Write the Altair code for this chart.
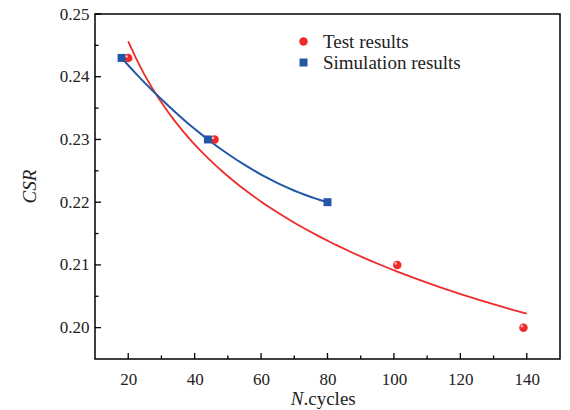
import altair as alt
import pandas as pd

# ---- data ----
test_n = [20, 46, 101, 139]
test_csr = [0.243, 0.230, 0.210, 0.200]
sim_n = [18, 44, 80]
sim_csr = [0.243, 0.230, 0.220]

series_names = ["Test results", "Simulation results"]
series_colors = ["#ee2b2b", "#2456a6"]
series_shapes = ["circle", "square"]

x_major = [20, 40, 60, 80, 100, 120, 140]
x_minor = [30, 50, 70, 90, 110, 130]
y_major = [0.20, 0.21, 0.22, 0.23, 0.24, 0.25]
y_minor = [0.205, 0.215, 0.225, 0.235, 0.245]

x_title_parts = ["N", ".cycles"]
y_title = "CSR"

FONT = "Liberation Serif"
W, H = 465, 345

pts = pd.DataFrame(
    {
        "N": test_n + sim_n,
        "CSR": test_csr + sim_csr,
        "series": [series_names[0]] * len(test_n) + [series_names[1]] * len(sim_n),
    }
)
test_df = pd.DataFrame({"N": test_n, "CSR": test_csr})
sim_df = pd.DataFrame({"N": sim_n, "CSR": sim_csr})

xs = alt.Scale(domain=[10, 150], nice=False, zero=False)
ys = alt.Scale(domain=[0.195, 0.25], nice=False, zero=False)

x_axis = alt.Axis(
    values=x_major, ticks=False, tickSize=0, domain=False, grid=False,
    labelFont=FONT, labelFontSize=17, labelColor="#222", labelPadding=12,
    title=None,
)
y_axis = alt.Axis(
    values=y_major, ticks=False, tickSize=0, domain=False, grid=False,
    labelFont=FONT, labelFontSize=17, labelColor="#222", labelPadding=6,
    format=".2f", title=None,
)

X = alt.X("N:Q", scale=xs, axis=x_axis)
Y = alt.Y("CSR:Q", scale=ys, axis=y_axis)

red_fit = (
    alt.Chart(test_df)
    .transform_regression("N", "CSR", method="pow", extent=[20, 140])
    .mark_line(color=series_colors[0], strokeWidth=1.8)
    .encode(x=X, y=Y)
)
blue_fit = (
    alt.Chart(sim_df)
    .transform_regression("N", "CSR", method="poly", order=2, extent=[18, 80])
    .mark_line(color=series_colors[1], strokeWidth=2)
    .encode(x=X, y=Y)
)

points = (
    alt.Chart(pts)
    .mark_point(filled=True, opacity=1)
    .encode(
        x=X,
        y=Y,
        color=alt.Color(
            "series:N",
            scale=alt.Scale(domain=series_names, range=series_colors),
            legend=alt.Legend(
                orient="none", legendX=199, legendY=18, title=None,
                labelFont=FONT, labelFontSize=19, labelColor="#222",
                symbolSize=64, labelOffset=10, rowPadding=1, padding=0,
                symbolStrokeWidth=0,
            ),
        ),
        shape=alt.Shape(
            "series:N",
            scale=alt.Scale(domain=series_names, range=series_shapes),
            legend=None,
        ),
        size=alt.Size(
            "series:N",
            scale=alt.Scale(domain=series_names, range=[72, 64]),
            legend=None,
        ),
    )
)

# sphere highlight on the test points
highlight = (
    alt.Chart(test_df)
    .mark_point(filled=True, color="#ffd0d0", opacity=0.9, size=6, xOffset=-1.5, yOffset=-1.5)
    .encode(x=X, y=Y)
)

xtick_major = alt.Chart(pd.DataFrame({"N": x_major})).mark_rule(color="black", strokeWidth=1.3).encode(
    x=X, y=alt.value(H), y2=alt.value(H - 6)
)
xtick_minor = alt.Chart(pd.DataFrame({"N": x_minor})).mark_rule(color="black", strokeWidth=1.3).encode(
    x=X, y=alt.value(H), y2=alt.value(H - 3.5)
)
ytick_major = alt.Chart(pd.DataFrame({"CSR": y_major})).mark_rule(color="black", strokeWidth=1.3).encode(
    y=Y, x=alt.value(0), x2=alt.value(6)
)
ytick_minor = alt.Chart(pd.DataFrame({"CSR": y_minor})).mark_rule(color="black", strokeWidth=1.3).encode(
    y=Y, x=alt.value(0), x2=alt.value(3.5)
)

xt_df = pd.DataFrame({"t": [x_title_parts[0]]})
xtitle_n = alt.Chart(xt_df).mark_text(
    font=FONT, fontSize=19, fontStyle="italic", align="right", baseline="alphabetic", color="#222"
).encode(text="t:N", x=alt.value(W / 2 - 24), y=alt.value(H + 46))
xt2_df = pd.DataFrame({"t": [x_title_parts[1]]})
xtitle_rest = alt.Chart(xt2_df).mark_text(
    font=FONT, fontSize=19, align="left", baseline="alphabetic", color="#222"
).encode(text="t:N", x=alt.value(W / 2 - 24), y=alt.value(H + 46))

yt_df = pd.DataFrame({"t": [y_title]})
ytitle = alt.Chart(yt_df).mark_text(
    font=FONT, fontSize=19, fontStyle="italic", angle=270, align="center", baseline="middle", color="#222"
).encode(text="t:N", x=alt.value(-65), y=alt.value(H / 2))

chart = (
    alt.layer(
        red_fit, blue_fit, points, highlight,
        xtick_major, xtick_minor, ytick_major, ytick_minor,
        xtitle_n, xtitle_rest, ytitle,
    )
    .properties(
        width=W, height=H,
        autosize=alt.AutoSizeParams(type="none"),
        padding={"left": 95, "top": 14, "right": 10, "bottom": 51},
    )
    .configure(background="white", font=FONT)
    .configure_view(stroke="black", strokeWidth=1.5)
    .configure_axis(labelFont=FONT, labelFontSize=17, labelColor="#222")
    .configure_legend(labelFont=FONT)
)

chart.save("out.html", embed_options={"renderer": "svg", "actions": False})
